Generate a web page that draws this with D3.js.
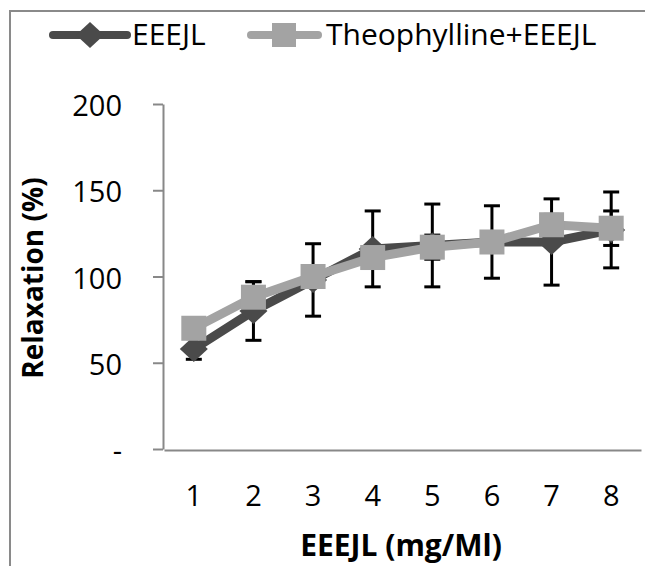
<!DOCTYPE html>
<html>
<head>
<meta charset="utf-8">
<script src="https://cdn.jsdelivr.net/npm/d3@7"></script>
<style>
  body { margin: 0; background: #fff; }
  text { font-family: "Open Sans", sans-serif; fill: #000; }
</style>
</head>
<body>
<div class="chart"></div>
<script>
var doses = [1, 2, 3, 4, 5, 6, 7, 8];
var eeejl = [58, 80, 98, 116, 118, 120, 120, 127];
var eeejlErr = [6, 17, 21, 22, 24, 21, 25, 22];
var theo = [70, 88, 100, 111, 117, 120, 130, 128];
var theoErr = [4, 9, 5, 6, 7, 6, 6, 10];
var yTicks = [0, 50, 100, 150, 200];
var names = ["EEEJL", "Theophylline+EEEJL"];

var width = 647;
var height = 566;
var dark = "#4a4a4a";
var light = "#a3a3a3";

var svg = d3.select(".chart").append("svg")
    .attr("width", width)
    .attr("height", height)
    .attr("display", "block")

// frame round the picture
svg.append("path")
    .attr("d", "M10,566 L10,11 L645,11")
    .attr("fill", "none")
    .attr("stroke", "#8a8a8a")
    .attr("stroke-width", 2)

var x = d3.scaleBand().domain(doses).range([164, 641]);
var y = d3.scaleLinear().domain([0, 200]).range([449, 104]);

// y axis
var yAxis = svg.append("g")
    .attr("transform", "translate(163,0)")
    .call(d3.axisLeft(y).tickValues(yTicks).tickSize(10).tickSizeOuter(0).tickPadding(31)
      .tickFormat(function(d){ return d === 0 ? "-" : d }))
yAxis.select(".domain").attr("stroke", "#888").attr("stroke-width", 2)
yAxis.selectAll("line").attr("stroke", "#888").attr("stroke-width", 2)
yAxis.selectAll("text").attr("font-size", 29).attr("dy", "0.4em")

// x axis
var xAxis = svg.append("g")
    .attr("transform", "translate(0,450)")
    .call(d3.axisBottom(x).tickSize(0).tickPadding(35))
xAxis.select(".domain").attr("stroke", "#888").attr("stroke-width", 2)
xAxis.selectAll("text").attr("font-size", 29)

// axis titles
svg.append("text")
    .attr("transform", "translate(43,278) rotate(-90)")
    .attr("text-anchor", "middle")
    .attr("font-size", 28)
    .attr("font-weight", "bold")
    .text("Relaxation (%)")

svg.append("text")
    .attr("x", 401)
    .attr("y", 556)
    .attr("text-anchor", "middle")
    .attr("font-size", 30)
    .attr("font-weight", "bold")
    .text("EEEJL (mg/Ml)")

var cx = function(d, i) { return x(doses[i]) + x.bandwidth() / 2; }

// error bars go behind the series
var drawErr = function(vals, errs) {
  var g = svg.append("g").attr("stroke", "#000").attr("stroke-width", 3);
  vals.forEach(function(v, i) {
    var px = cx(v, i);
    g.append("line").attr("x1", px).attr("x2", px).attr("y1", y(v - errs[i])).attr("y2", y(v + errs[i]));
    g.append("line").attr("x1", px - 8).attr("x2", px + 8).attr("y1", y(v - errs[i])).attr("y2", y(v - errs[i]));
    g.append("line").attr("x1", px - 8).attr("x2", px + 8).attr("y1", y(v + errs[i])).attr("y2", y(v + errs[i]));
  });
}
drawErr(eeejl, eeejlErr);
drawErr(theo, theoErr);

var line = d3.line().x(cx).y(function(d) { return y(d); });
var diamond = "M0,-13L14,0L0,13L-14,0Z";

svg.append("path")
    .attr("d", line(eeejl))
    .attr("fill", "none")
    .attr("stroke", dark)
    .attr("stroke-width", 9)
    .attr("stroke-linejoin", "round")
svg.selectAll(".dia").data(eeejl).enter().append("path")
    .attr("class", "dia")
    .attr("d", diamond)
    .attr("fill", dark)
    .attr("transform", function(d, i) { return "translate(" + cx(d, i) + "," + y(d) + ")"; })

svg.append("path")
    .attr("d", line(theo))
    .attr("fill", "none")
    .attr("stroke", light)
    .attr("stroke-width", 9)
    .attr("stroke-linejoin", "round")
svg.selectAll(".sq").data(theo).enter().append("rect")
    .attr("class", "sq")
    .attr("width", 25)
    .attr("height", 25)
    .attr("fill", light)
    .attr("x", function(d, i) { return cx(d, i) - 12.5; })
    .attr("y", function(d) { return y(d) - 12.5; })

// legend
var leg = svg.append("g")
leg.append("line").attr("x1", 53).attr("x2", 127).attr("y1", 35).attr("y2", 35)
    .attr("stroke", dark).attr("stroke-width", 8).attr("stroke-linecap", "round")
leg.append("path").attr("d", diamond).attr("fill", dark).attr("transform", "translate(90,35)")
leg.append("text").attr("x", 132).attr("y", 45).attr("font-size", 30).text(names[0])

leg.append("line").attr("x1", 251).attr("x2", 318).attr("y1", 35).attr("y2", 35)
    .attr("stroke", light).attr("stroke-width", 8).attr("stroke-linecap", "round")
leg.append("rect").attr("x", 272).attr("y", 23).attr("width", 24).attr("height", 24).attr("fill", light)
leg.append("text").attr("x", 326).attr("y", 45).attr("font-size", 30).text(names[1])
</script>
</body>
</html>
